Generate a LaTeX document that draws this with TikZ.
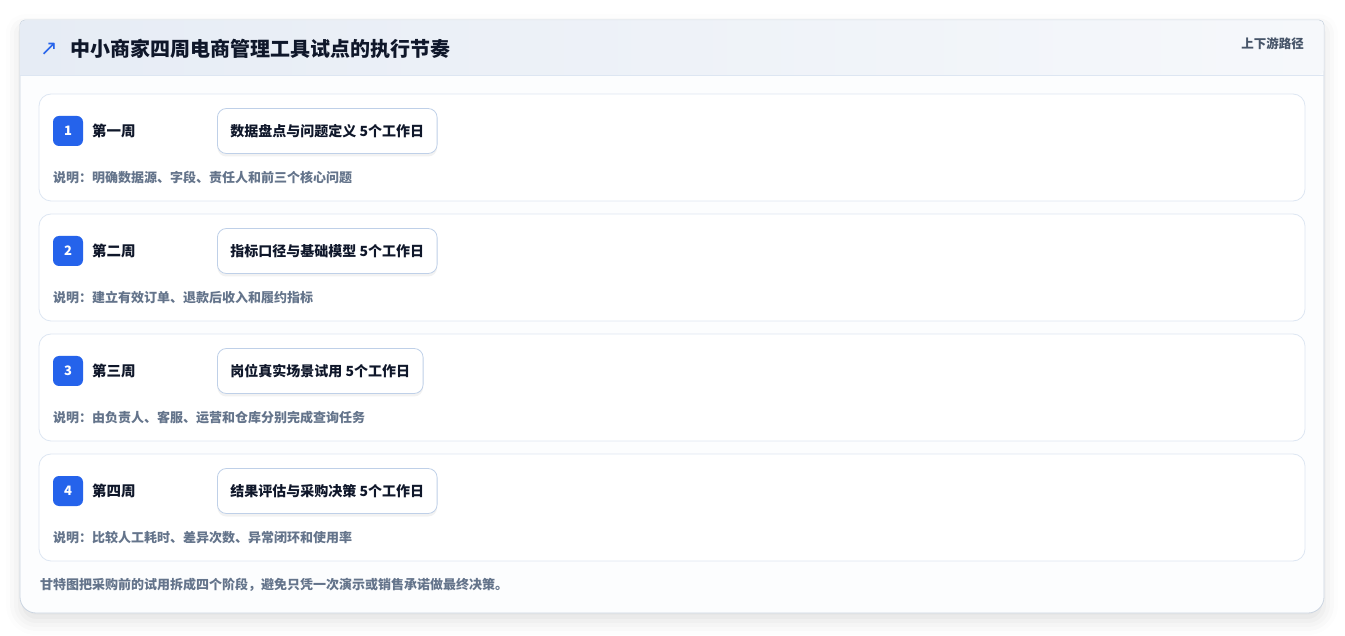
\documentclass[tikz,border=0pt]{standalone}
\usepackage{fontspec}
\setmainfont{Noto Sans CJK SC}
\newfontfamily\symfont{DejaVu Sans}
\usepackage{xcolor}
\usetikzlibrary{positioning}
\usetikzlibrary{shadows, shadows.blur}

\definecolor{inkdark}{HTML}{0F172A}
\definecolor{inkgray}{HTML}{64748B}
\definecolor{inkmid}{HTML}{475569}
\definecolor{badgeblue}{HTML}{2563EB}
\definecolor{hdrleft}{HTML}{E6ECF5}
\definecolor{hdrright}{HTML}{F6F8FB}
\definecolor{boardline}{HTML}{CBD5E1}
\definecolor{cardline}{HTML}{DDE6F2}
\definecolor{taskline}{HTML}{BFD0E8}
\definecolor{boardfill}{HTML}{FCFDFE}

\begin{document}
\begin{tikzpicture}[x=1pt, y=-1pt, font=\fontsize{13.5}{16}\selectfont]
      \tikzstyle{row card} = [draw=cardline, fill=white, rounded corners=12pt, line width=0.8pt,
         minimum width=1266pt, minimum height=107pt, inner sep=0pt]
      \tikzstyle{badge} = [fill=badgeblue, rounded corners=6pt, minimum size=30pt, inner sep=0pt,
         text=white, font=\fontsize{13}{15}\selectfont\bfseries]
      \tikzstyle{week} = [anchor=west, inner sep=0pt, text=inkdark, font=\fontsize{14.5}{16}\selectfont\bfseries]
      \tikzstyle{task box} = [anchor=west, draw=taskline, fill=white, rounded corners=9pt, line width=0.8pt,
         minimum height=45pt, inner xsep=13pt, text=inkdark, font=\fontsize{14}{16}\selectfont\bfseries,
         drop shadow={shadow xshift=0pt, shadow yshift=-3pt, opacity=0.05, fill=black}]
      \tikzstyle{note} = [anchor=west, inner sep=0pt, text=inkgray, font=\fontsize{13}{15}\selectfont\bfseries]
      \useasboundingbox (0,0) rectangle (1345,636);
      %board
      \path[fill=boardfill, draw=boardline, line width=0.8pt,
         blur shadow={shadow xshift=0pt, shadow yshift=-8pt, shadow blur radius=14pt, shadow opacity=12}]
         (20,40) [rounded corners=5pt] -- (20,20) -- (1324,20) [rounded corners=16pt] -- (1324,613) -- (20,613) -- cycle;
      \path[left color=hdrleft, right color=hdrright, rounded corners=5pt]
         (20,75) -- (20,20.4) -- (1323.6,20.4) -- (1323.6,75) [sharp corners] -- cycle;
      \draw[cardline, line width=0.8pt] (20.4,75) -- (1323.6,75);
      %header
      \node[anchor=west, inner sep=0pt, text=badgeblue, font=\symfont\fontsize{21}{24}\selectfont] (icon) at (40,49) {↗};
      \node[anchor=west, inner sep=0pt, text=inkdark, font=\fontsize{20}{24}\selectfont\bfseries] (title) at (70,49)
         {中小商家四周电商管理工具试点的执行节奏};
      \node[anchor=east, inner sep=0pt, text=inkmid, font=\fontsize{12.5}{15}\selectfont\bfseries] (flow) at (1304,44) {上下游路径};
      %week 1
      \node[row card]             (card1)  at (672,147.5) {};
      \node[badge]                (badge1) at (68,131)    {1};
      \node[week]                 (week1)  at (92,131)    {第一周};
      \node[task box]             (task1)  at (217,131)   {数据盘点与问题定义 5个工作日};
      \node[note]                 (note1)  at (53,178)    {说明：明确数据源、字段、责任人和前三个核心问题};
      %week 2
      \node[row card]             (card2)  at (672,267.5) {};
      \node[badge]                (badge2) at (68,251)    {2};
      \node[week]                 (week2)  at (92,251)    {第二周};
      \node[task box]             (task2)  at (217,251)   {指标口径与基础模型 5个工作日};
      \node[note]                 (note2)  at (53,298)    {说明：建立有效订单、退款后收入和履约指标};
      %week 3
      \node[row card]             (card3)  at (672,387.5) {};
      \node[badge]                (badge3) at (68,371)    {3};
      \node[week]                 (week3)  at (92,371)    {第三周};
      \node[task box]             (task3)  at (217,371)   {岗位真实场景试用 5个工作日};
      \node[note]                 (note3)  at (53,418)    {说明：由负责人、客服、运营和仓库分别完成查询任务};
      %week 4
      \node[row card]             (card4)  at (672,507.5) {};
      \node[badge]                (badge4) at (68,491)    {4};
      \node[week]                 (week4)  at (92,491)    {第四周};
      \node[task box]             (task4)  at (217,491)   {结果评估与采购决策 5个工作日};
      \node[note]                 (note4)  at (53,538)    {说明：比较人工耗时、差异次数、异常闭环和使用率};
      %footer
      \node[note]                 (footer) at (40,585)    {甘特图把采购前的试用拆成四个阶段，避免只凭一次演示或销售承诺做最终决策。};
\end{tikzpicture}
\end{document}
